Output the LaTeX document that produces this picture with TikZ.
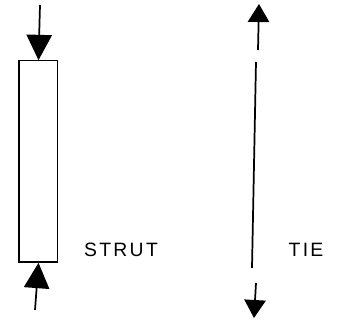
\documentclass[tikz,border=0pt]{standalone}
\usepackage{fontspec}
\setsansfont{Liberation Sans}
\usetikzlibrary{arrows.meta, positioning}

\begin{document}
\begin{tikzpicture}[
    x=0.75pt, y=-0.75pt,
    member/.style={draw, line width=1pt, inner sep=0pt,
                   minimum width=29pt, minimum height=151pt},
    pushforce/.style={line width=1.3pt, -{Triangle[length=19pt, width=19pt]}},
    pullforce/.style={line width=1.3pt, -{Triangle[length=13.5pt, width=16pt]}},
    caption/.style={font=\sffamily\fontsize{14.5}{14.5}\selectfont\addfontfeature{LetterSpace=12}}
  ]
  \useasboundingbox (0,0) rectangle (337,320);

  % strut with the two pushing forces
  \node[member] (strut) at (38.5,161.5) {};
  \coordinate (pushtop) at (40,5);
  \coordinate (pushbot) at (35,310);
  \draw[pushforce] (pushtop) -- (strut.north);
  \draw[pushforce] (pushbot) -- (strut.south);
  \node[caption] (strutlabel) at (121,250) {STRUT};

  % tie, drawn as a line with a pulling force at each end
  \coordinate (tietip) at (259,4);
  \coordinate (tieupper) at (258,50);
  \coordinate (tiea) at (256,62);
  \coordinate (tieb) at (252,268);
  \coordinate (tielower) at (256,283);
  \coordinate (tiebot) at (254,318);
  \draw[pullforce] (tieupper) -- (tietip);
  \draw[line width=1.3pt] (tiea) -- (tieb);
  \draw[pullforce] (tielower) -- (tiebot);
  \node[caption] (tielabel) at (306,250) {TIE};
\end{tikzpicture}
\end{document}
